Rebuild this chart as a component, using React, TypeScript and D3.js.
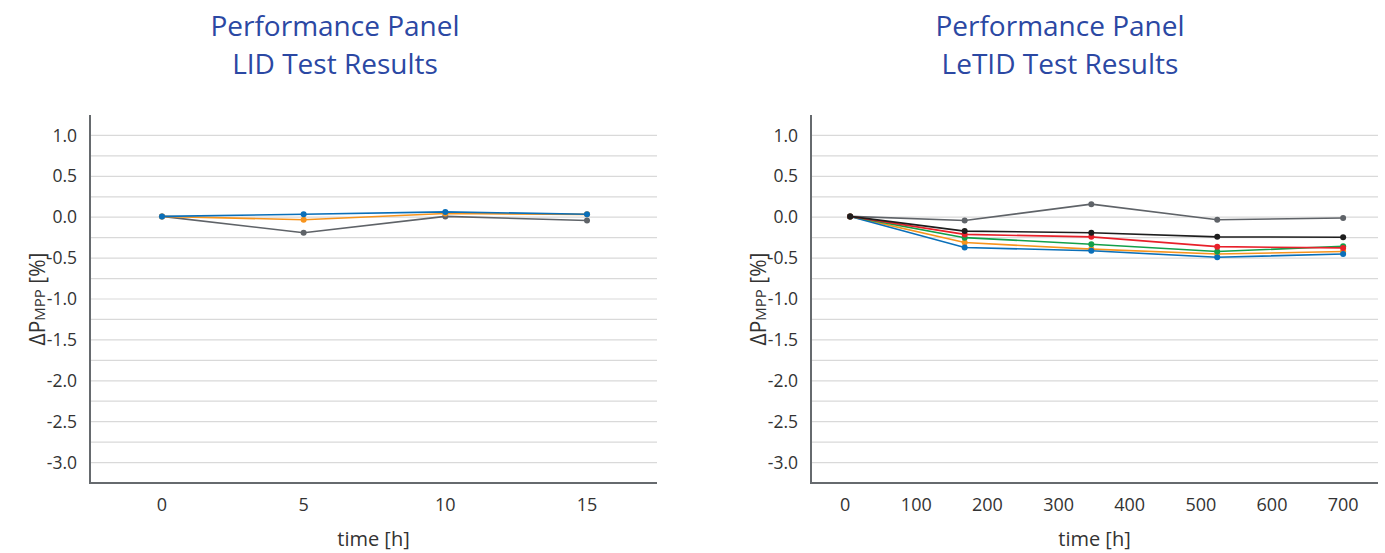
import React from "react";
import * as d3 from "d3";

// LID test (time in hours)
const lidTimes = [0, 5, 10, 15];
const lidGray = [0.01, -0.19, 0.01, -0.04];
const lidOrange = [0.01, -0.03, 0.045, 0.035];
const lidBlue = [0.01, 0.037, 0.065, 0.037];

// LeTID test (time in hours)
const letidTimes = [7, 168, 346, 523, 700];
const letidGray = [0.01, -0.04, 0.16, -0.03, -0.01];
const letidOrange = [0.01, -0.31, -0.39, -0.45, -0.42];
const letidBlue = [0.01, -0.37, -0.41, -0.49, -0.45];
const letidGreen = [0.01, -0.25, -0.33, -0.42, -0.355];
const letidRed = [0.01, -0.21, -0.24, -0.36, -0.375];
const letidBlack = [0.01, -0.17, -0.19, -0.24, -0.245];

const yTicks = [1.0, 0.5, 0.0, -0.5, -1.0, -1.5, -2.0, -2.5, -3.0];
const yGrid = d3.range(-3.0, 1.01, 0.25);
const lidXTicks = [0, 5, 10, 15];
const letidXTicks = [0, 100, 200, 300, 400, 500, 600, 700];

const COLORS = {
  gray: "#5f6368",
  orange: "#f7941d",
  blue: "#0a6fb9",
  green: "#13a04a",
  red: "#e8202a",
  black: "#1e1e1e",
};

const FONT = "'Open Sans', 'Noto Sans', sans-serif";

type Series = { color: string; values: number[] };

function Panel({ left, width, title, xDomain, xTicks, times, series }: {
  left: number; width: number; title: string; xDomain: [number, number];
  xTicks: number[]; times: number[]; series: Series[];
}) {
  const plotLeft = left + 90;
  const plotRight = left + 657;
  const top = 115;
  const bottom = 483;
  const x = d3.scaleLinear().domain(xDomain).range([plotLeft, plotRight]);
  const y = d3.scaleLinear().domain([-3.25, 1.25]).range([bottom, top]);
  const line = d3.line<number>()
    .x((_, i) => x(times[i]))
    .y(d => y(d));
  const titleX = left + width / 2;
  const midX = (plotLeft + plotRight) / 2;

  return (
    <g>
      <text x={titleX} y={36} textAnchor="middle" fontSize={28} fill="#2b48a3" fontFamily={FONT}>
        Performance Panel
      </text>
      <text x={titleX} y={74} textAnchor="middle" fontSize={28} fill="#2b48a3" fontFamily={FONT}>
        {title}
      </text>
      {yGrid.map(v => (
        <line key={v} x1={plotLeft} x2={plotRight} y1={y(v)} y2={y(v)} stroke="#d9d9d9" strokeWidth={1.2} />
      ))}
      {yTicks.map(v => (
        <text key={v} x={plotLeft - 13} y={y(v)} dy="0.35em" textAnchor="end" fontSize={17.5} fill="#333" fontFamily={FONT}>
          {v.toFixed(1)}
        </text>
      ))}
      {xTicks.map(v => (
        <text key={v} x={x(v)} y={bottom + 28} textAnchor="middle" fontSize={18} fill="#333" fontFamily={FONT}>
          {v}
        </text>
      ))}
      <path d={`M${plotLeft},${top}V${bottom}H${plotRight}`} fill="none" stroke="#666a6e" strokeWidth={2} />
      <text x={midX} y={546} textAnchor="middle" fontSize={20} fill="#333" fontFamily={FONT}>
        time [h]
      </text>
      <text transform={`translate(${left + 45},${y(-1.0)}) rotate(-90)`} textAnchor="middle" fontSize={21} fill="#333" fontFamily={FONT}>
        ΔP<tspan fontSize={15}>MPP</tspan> [%]
      </text>
      {series.map((s, si) => (
        <g key={si}>
          <path d={line(s.values) || ""} fill="none" stroke={s.color} strokeWidth={1.6} />
          {s.values.map((v, i) => (
            <circle key={i} cx={x(times[i])} cy={y(v)} r={3} fill={s.color} />
          ))}
        </g>
      ))}
    </g>
  );
}

export default function App() {
  return (
    <svg width={1385} height={553} style={{ position: "absolute", left: 0, top: 0 }}>
      <rect width={1385} height={553} fill="#fff" />
      <Panel
        left={0}
        width={670}
        title="LID Test Results"
        xDomain={[-2.54, 17.47]}
        xTicks={lidXTicks}
        times={lidTimes}
        series={[
          { color: COLORS.gray, values: lidGray },
          { color: COLORS.orange, values: lidOrange },
          { color: COLORS.blue, values: lidBlue },
        ]}
      />
      <Panel
        left={721}
        width={678}
        title="LeTID Test Results"
        xDomain={[-48, 749]}
        xTicks={letidXTicks}
        times={letidTimes}
        series={[
          { color: COLORS.gray, values: letidGray },
          { color: COLORS.orange, values: letidOrange },
          { color: COLORS.blue, values: letidBlue },
          { color: COLORS.green, values: letidGreen },
          { color: COLORS.red, values: letidRed },
          { color: COLORS.black, values: letidBlack },
        ]}
      />
    </svg>
  );
}
